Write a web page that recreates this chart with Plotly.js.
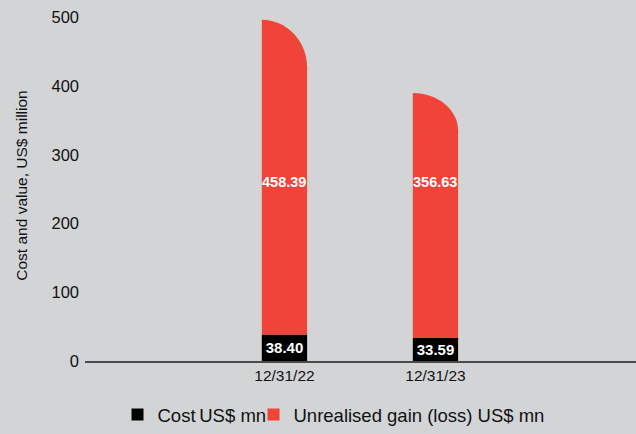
<!DOCTYPE html>
<html>
<head>
<meta charset="utf-8">
<script src="https://cdn.plot.ly/plotly-3.0.1.min.js"></script>
<style>
  html, body { margin: 0; padding: 0; background: #d3d4d6; }
  #chart { width: 636px; height: 434px; }
</style>
</head>
<body>
<div id="chart"></div>
<script>
// ---- data ----
var categories = ['12/31/22', '12/31/23'];
var costValues = [38.40, 33.59];
var gainValues = [458.39, 356.63];
var costName = 'Cost\u2009US$ mn';
var gainName = 'Unrealised gain (loss) US$ mn';

// ---- styling / geometry ----
var RED = '#f04438';
var BLACK = '#000000';
var BG = '#d3d4d6';
var FONT = '"Liberation Sans", Arial, Helvetica, sans-serif';
var BAR_W = 0.3;
var CAP_FRAC = 0.14;   // rounded top-right cap height as a fraction of the stack total
var K = 0.5523;
var SEAM = 3;          // overlap (data units) between cap and bar body

var idx = categories.map(function (c, i) { return i; });
var totals = idx.map(function (i) { return costValues[i] + gainValues[i]; });
var capH = totals.map(function (t) { return t * CAP_FRAC; });

var costTrace = {
  type: 'bar', name: costName,
  x: idx, y: costValues, width: BAR_W,
  legendwidth: 91,
  marker: { color: BLACK, line: { width: 0 } },
  text: costValues.map(function (v) { return v.toFixed(2); }),
  textposition: 'inside', insidetextanchor: 'middle', textangle: 0,
  constraintext: 'none',
  textfont: { color: '#ffffff', size: 15, family: FONT, weight: 'bold' },
  hoverinfo: 'y'
};

var gainTrace = {
  type: 'bar', name: gainName,
  x: idx, base: costValues,
  y: idx.map(function (i) { return gainValues[i] - capH[i]; }),
  width: BAR_W,
  legendwidth: 262,
  marker: { color: RED, line: { width: 0 } },
  hoverinfo: 'none'
};

var shapes = idx.map(function (i) {
  var x0 = i - BAR_W / 2, x1 = i + BAR_W / 2, w = x1 - x0;
  var top = totals[i], yb = top - capH[i];
  return {
    type: 'path', xref: 'x', yref: 'y', layer: 'above',
    path: 'M ' + x0 + ',' + (yb - SEAM) + ' L ' + x0 + ',' + top +
          ' C ' + (x0 + K * w) + ',' + top + ' ' + x1 + ',' + (yb + K * capH[i]) + ' ' + x1 + ',' + yb +
          ' L ' + x1 + ',' + (yb - SEAM) + ' Z',
    fillcolor: RED, line: { width: 0 }
  };
});

var annotations = idx.map(function (i) {
  return {
    x: i, xref: 'x', y: 0.51, yref: 'paper',
    text: '<b>' + gainValues[i].toFixed(2) + '</b>',
    showarrow: false, xanchor: 'center', yanchor: 'middle',
    font: { color: '#ffffff', size: 14.5, family: FONT }
  };
});

var layout = {
  width: 636, height: 434,
  margin: { l: 85, r: 0, t: 10, b: 71, pad: 0 },
  paper_bgcolor: BG, plot_bgcolor: BG,
  font: { family: FONT, color: '#111111', size: 15 },
  barmode: 'overlay',
  showlegend: true,
  legend: {
    orientation: 'h', x: 0.461, xanchor: 'center', y: -0.155, yanchor: 'middle',
    font: { size: 18.5, family: FONT, color: '#111111' },
    bgcolor: 'rgba(0,0,0,0)', itemclick: false, itemdoubleclick: false
  },
  xaxis: {
    range: [-1.321, 2.328],
    tickmode: 'array', tickvals: idx, ticktext: categories,
    showgrid: false, zeroline: false,
    showline: true, linecolor: '#4a4a4a', linewidth: 1.5,
    ticks: '', tickfont: { size: 15.5, family: FONT, color: '#111111' },
    fixedrange: true
  },
  yaxis: {
    range: [0, 511],
    tickmode: 'array', tickvals: [0, 100, 200, 300, 400, 500],
    showgrid: false, zeroline: false, showline: false, ticks: '',
    ticklabelstandoff: 5,
    tickfont: { size: 16.5, family: FONT, color: '#111111' },
    title: { text: 'Cost and value, US$ million', font: { size: 15.5, family: FONT, color: '#111111' }, standoff: 20 },
    fixedrange: true
  },
  shapes: shapes,
  annotations: annotations
};

Plotly.newPlot('chart', [costTrace, gainTrace], layout, { displayModeBar: false, staticPlot: true });
</script>
</body>
</html>
